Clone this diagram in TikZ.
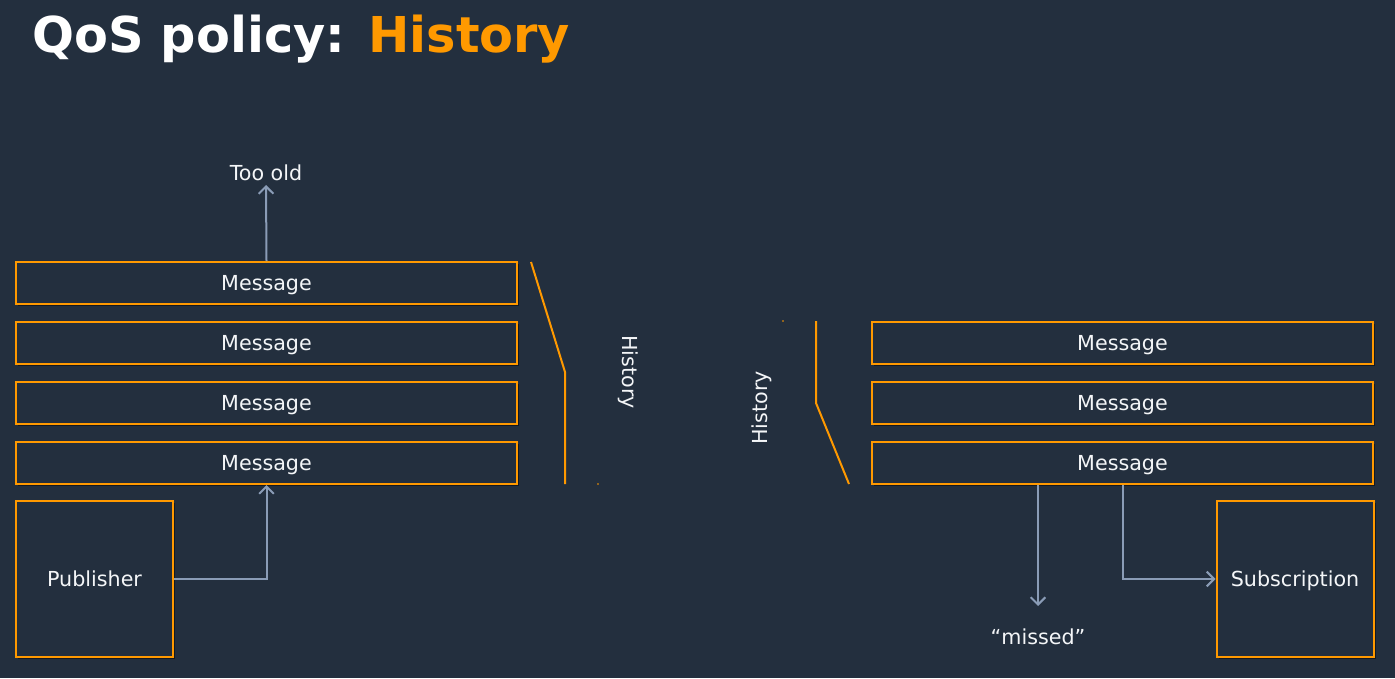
\documentclass[tikz,border=0pt]{standalone}
\usepackage{fontspec}
\setmainfont{DejaVu Sans}
\usetikzlibrary{arrows.meta,shadows}
\definecolor{bg}{HTML}{232F3E}
\definecolor{awsorange}{HTML}{FF9900}
\definecolor{arrowc}{HTML}{8A9CB6}
\definecolor{txt}{HTML}{F4F6F8}
\tikzset{
  box/.style={draw=awsorange, line width=1.5pt, fill=bg, inner sep=0pt,
    drop shadow={opacity=0.45, shadow xshift=1.5pt, shadow yshift=-1.5pt, fill=black},
    text=txt, font=\fontsize{15.5pt}{18pt}\selectfont, text height=11.3pt, text depth=0pt},
  msg/.style={box, minimum width=375.75pt, minimum height=31.5pt},
  actor/.style={box, minimum width=117.75pt, minimum height=117pt},
  lbl/.style={text=txt, font=\fontsize{15.5pt}{18pt}\selectfont, inner sep=0pt, text height=11.3pt, text depth=0pt},
  conn/.style={draw=arrowc, line width=1.5pt, -{Straight Barb[length=5.5pt,width=11pt,line width=1.5pt]}},
  brace/.style={draw=awsorange, line width=1.5pt},
}
\begin{document}
\begin{tikzpicture}[x=0.75pt,y=-0.75pt]
\fill[bg] (0,0) rectangle (1395,678);
\useasboundingbox (0,0) rectangle (1395,678);
% title
\node[anchor=base west, inner sep=0pt, font=\fontsize{37.05pt}{44pt}\selectfont\bfseries, text=white] (title) at (32,52) {QoS policy: \textcolor{awsorange}{History}};
% left stack
\node[msg] (l1) at (266.5,283) {Message};
\node[msg] (l2) at (266.5,343) {Message};
\node[msg] (l3) at (266.5,403) {Message};
\node[msg] (l4) at (266.5,463) {Message};
\node[actor] (pub) at (94.5,579) {Publisher};
\node[lbl] (old) at (266,173) {Too old};
\coordinate (oldtip) at (266,185);
\draw[conn] (l1.north) -- (oldtip);
\draw[conn] (pub.east) -| (l4.south);
% left history bracket
\coordinate (lb1) at (531,262);
\coordinate (lb2) at (565,372);
\coordinate (lb3) at (565,484);
\draw[brace] (lb1) -- (lb2) -- (lb3);
\fill[awsorange] (598,484) circle (0.9);
\node[lbl, rotate=-90] (lh) at (630,372) {History};
% right stack
\node[msg] (r1) at (1122.5,343) {Message};
\node[msg] (r2) at (1122.5,403) {Message};
\node[msg] (r3) at (1122.5,463) {Message};
\node[actor] (sub) at (1295,579) {Subscription};
\node[lbl] (missed) at (1038,637) {“missed”};
\coordinate (misstip) at (1038,606);
\draw[conn] (r3.south -| missed) -- (misstip);
\draw[conn] (r3.south) |- (sub.west);
% right history bracket
\coordinate (rb1) at (816,321);
\coordinate (rb2) at (816,403);
\coordinate (rb3) at (849,484);
\draw[brace] (rb1) -- (rb2) -- (rb3);
\fill[awsorange] (783,321) circle (0.9);
\node[lbl, rotate=90] (rh) at (760,408) {History};
\end{tikzpicture}
\end{document}
